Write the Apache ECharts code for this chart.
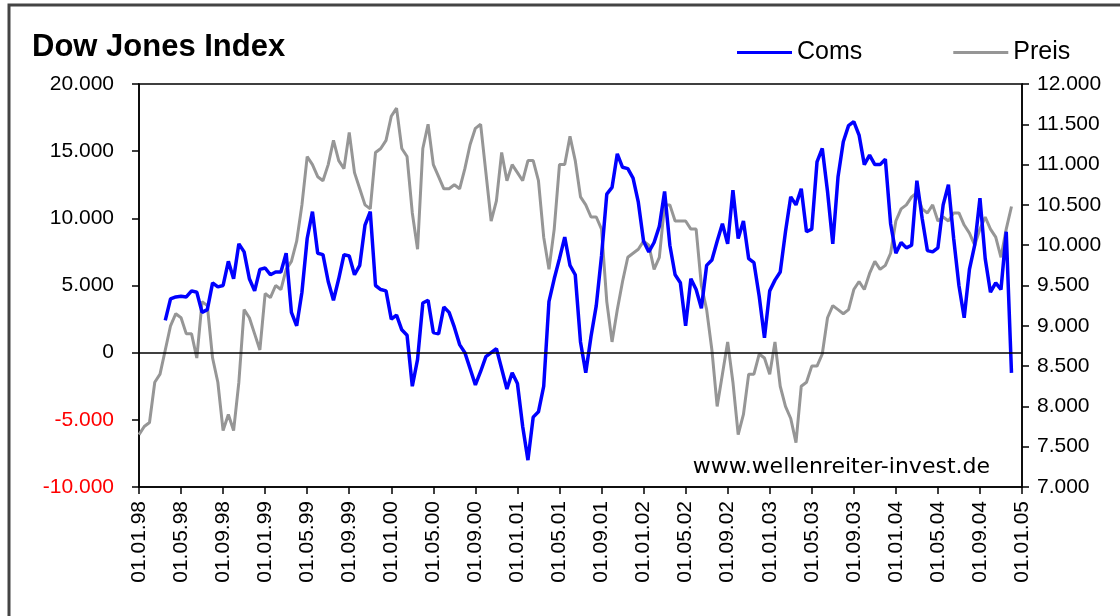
<!DOCTYPE html>
<html>
<head>
<meta charset="utf-8">
<title>Dow Jones Index</title>
<script src="https://cdn.jsdelivr.net/npm/echarts@6/dist/echarts.min.js"></script>
<style>
  html, body { margin: 0; padding: 0; background: #fff; }
  #chart { width: 1120px; height: 616px; }
</style>
</head>
<body>
<div id="chart"></div>
<script>
// Halbmonatliche Werte, 01.01.98 bis Ende 2004
const comsValues = [
  null, null, null, null, null,
  2400, 4000, 4150, 4200, 4150, 4600, 4500, 3000, 3200, 5200,
  4900, 5000, 6800, 5500, 8100, 7500, 5500, 4600, 6200, 6300,
  5800, 6000, 6000, 7400, 3000, 2000, 4500, 8500, 10500, 7400,
  7300, 5300, 3900, 5500, 7300, 7200, 5800, 6500, 9500, 10500,
  5000, 4700, 4600, 2500, 2800, 1700, 1300, -2500, -500, 3700,
  3900, 1500, 1400, 3400, 3000, 1900, 600, 0, -1200, -2400,
  -1400, -300, 0, 300, -1200, -2700, -1500, -2300, -5500, -8000,
  -4800, -4400, -2500, 3800, 5500, 7000, 8600, 6500, 5800, 800,
  -1500, 1200, 3500, 7200, 11800, 12300, 14800, 13800, 13700, 13000,
  11200, 8300, 7500, 8200, 9400, 12000, 8000, 5800, 5200, 2000,
  5500, 4700, 3300, 6500, 6900, 8300, 9600, 8100, 12100, 8500,
  9800, 7000, 6700, 4200, 1100, 4600, 5400, 6000, 9000, 11600,
  11000, 12200, 9000, 9200, 14200, 15200, 12000, 8100, 13100, 15700,
  16900, 17200, 16200, 14000, 14700, 14000, 14000, 14400, 9600, 7400,
  8200, 7800, 8000, 12800, 10000, 7600, 7500, 7800, 11000, 12500,
  8500, 5000, 2600, 6200, 8000, 11500, 7000, 4500, 5200, 4700,
  9000, -1500
]

const preisValues = [
  7650, 7750, 7800, 8300, 8400, 8700, 9000, 9150, 9100, 8900,
  8900, 8600, 9300, 9250, 8600, 8300, 7700, 7900, 7700, 8300,
  9200, 9100, 8900, 8700, 9400, 9350, 9500, 9450, 9700, 9800,
  10050, 10500, 11100, 11000, 10850, 10800, 11000, 11300, 11050, 10950,
  11400, 10900, 10700, 10500, 10450, 11150, 11200, 11300, 11600, 11700,
  11200, 11100, 10400, 9950, 11200, 11500, 11000, 10850, 10700, 10700,
  10750, 10700, 10950, 11250, 11450, 11500, 10900, 10300, 10550, 11150,
  10800, 11000, 10900, 10800, 11050, 11050, 10800, 10100, 9700, 10200,
  11000, 11000, 11350, 11050, 10600, 10500, 10350, 10350, 10200, 9300,
  8800, 9200, 9550, 9850, 9900, 9950, 10050, 10000, 9700, 9850,
  10500, 10500, 10300, 10300, 10300, 10200, 10200, 9500, 9200, 8700,
  8000, 8400, 8800, 8300, 7650, 7900, 8400, 8400, 8650, 8600,
  8400, 8800, 8250, 8000, 7850, 7550, 8250, 8300, 8500, 8500,
  8650, 9100, 9250, 9200, 9150, 9200, 9450, 9550, 9450, 9650,
  9800, 9700, 9750, 9900, 10300, 10450, 10500, 10600, 10650, 10450,
  10400, 10500, 10300, 10350, 10300, 10400, 10400, 10250, 10150, 10000,
  10200, 10350, 10200, 10100, 9850, 10200, 10480
]

// Kategorien: 01. und 16. jedes Monats, 1998 bis 01.01.05
const dates = []
for (let k = 0; k <= 168; k++) {
  const m = Math.floor(k / 2)
  const day = k % 2 === 0 ? '01' : '16'
  const month = String(m % 12 + 1).padStart(2, '0')
  const year = String((1998 + Math.floor(m / 12)) % 100).padStart(2, '0')
  dates.push(day + '.' + month + '.' + year)
}

const FONT = '"Liberation Sans", Arial, sans-serif'

// 20000 -> "20.000"
function fmt(v) {
  const s = String(Math.abs(v)).replace(/\B(?=(\d{3})+(?!\d))/g, '.')
  return (v < 0 ? '-' : '') + s
}

const chart = echarts.init(document.getElementById('chart'))

chart.setOption({
  animation: false,
  backgroundColor: '#fff',
  title: {
    text: 'Dow Jones Index',
    left: 27,
    top: 27,
    textStyle: { fontFamily: FONT, fontSize: 31, fontWeight: 'bold', color: '#000' }
  },
  legend: {
    data: ['Coms', 'Preis'],
    left: 732,
    top: 35,
    icon: 'rect',
    itemWidth: 55,
    itemHeight: 3,
    itemGap: 91,
    textStyle: { fontFamily: FONT, fontSize: 25, color: '#000' }
  },
  graphic: [
    {
      type: 'rect',
      shape: { x: 9, y: 5, width: 1200, height: 700 },
      style: { fill: 'none', stroke: '#444', lineWidth: 3 },
      silent: true
    },
    {
      type: 'text',
      style: {
        x: 990, y: 467,
        text: 'www.wellenreiter-invest.de',
        textAlign: 'right',
        textVerticalAlign: 'middle',
        font: '22px "DejaVu Sans", sans-serif',
        fill: '#000'
      },
      silent: true
    }
  ],
  grid: {
    left: 139,
    right: 98,
    top: 84,
    bottom: 129,
    show: true,
    borderColor: '#000',
    borderWidth: 1.5
  },
  xAxis: {
    type: 'category',
    data: dates,
    boundaryGap: false,
    axisLine: { onZero: false, lineStyle: { color: '#000', width: 1.5 } },
    axisTick: { interval: 7, length: 7, lineStyle: { color: '#000', width: 1.5 } },
    axisLabel: {
      interval: 7,
      rotate: 90,
      margin: 14,
      fontFamily: FONT,
      fontSize: 21,
      color: '#000'
    },
    splitLine: { show: false }
  },
  yAxis: [
    {
      type: 'value',
      min: -10000,
      max: 20000,
      interval: 5000,
      axisLine: { show: true, lineStyle: { color: '#000', width: 1.5 } },
      axisTick: { show: true, length: 7, lineStyle: { color: '#000', width: 1.5 } },
      axisLabel: {
        margin: 25,
        fontFamily: FONT,
        fontSize: 21,
        formatter: fmt,
        color: (v) => (Number(v) < 0 ? '#ff0000' : '#000')
      },
      splitLine: { show: false }
    },
    {
      type: 'value',
      min: 7000,
      max: 12000,
      interval: 500,
      position: 'right',
      axisLine: { show: true, lineStyle: { color: '#000', width: 1.5 } },
      axisTick: { show: true, length: 7, lineStyle: { color: '#000', width: 1.5 } },
      axisLabel: {
        margin: 15,
        fontFamily: FONT,
        fontSize: 21,
        color: '#000',
        formatter: fmt
      },
      splitLine: { show: false }
    }
  ],
  series: [
    {
      name: 'Preis',
      type: 'line',
      yAxisIndex: 1,
      data: preisValues,
      showSymbol: false,
      color: '#969696',
      lineStyle: { color: '#969696', width: 3 }
    },
    {
      name: 'Coms',
      type: 'line',
      yAxisIndex: 0,
      data: comsValues,
      showSymbol: false,
      color: '#0000ff',
      lineStyle: { color: '#0000ff', width: 3.5 },
      markLine: {
        silent: true,
        symbol: 'none',
        label: { show: false },
        lineStyle: { color: '#000', width: 1.5, type: 'solid' },
        data: [{ yAxis: 0 }]
      }
    }
  ]
})
</script>
</body>
</html>
